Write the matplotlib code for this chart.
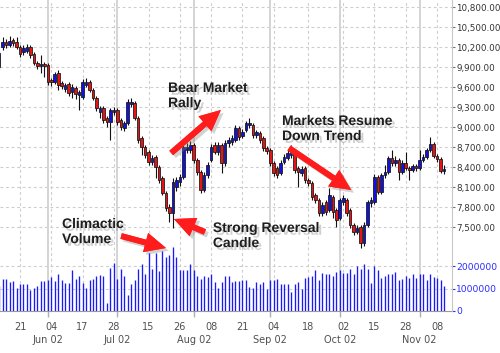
import numpy as np
import pandas as pd
import matplotlib
matplotlib.use("Agg")
import matplotlib.pyplot as plt
import matplotlib.patheffects as pe
from matplotlib.patches import Rectangle

# ---------------- data ----------------
dates = pd.bdate_range("2002-05-13", "2002-11-12")
dates = dates[~dates.isin(pd.to_datetime(["2002-05-27", "2002-07-04", "2002-09-02"]))]

opens = [
    9900, 10200, 10275, 10230, 10305, 10275, 10200, 10125, 10140, 10200,
    10095, 9960, 9915, 9945, 9930, 9705, 9675, 9810, 9660, 9570,
    9645, 9525, 9585, 9480, 9450, 9630, 9675, 9555, 9435, 9225,
    9285, 9135, 9075, 9225, 9255, 9105, 8985, 9060, 9345, 9360,
    9135, 8835, 8700, 8625, 8475, 8550, 8400, 8235, 8010, 7800,
    7710, 8100, 8175, 8250, 8655, 8655, 8730, 8505, 8325, 8055,
    8280, 8505, 8730, 8625, 8730, 8460, 8760, 8775, 8805, 8985,
    8865, 8955, 9030, 9030, 8880, 8910, 8835, 8685, 8655, 8460,
    8385, 8310, 8475, 8535, 8580, 8610, 8385, 8310, 8385, 8205,
    8160, 7980, 7905, 7710, 7875, 7755, 7950, 7755, 7635, 7875,
    7905, 7755, 7530, 7425, 7500, 7260, 7530, 7860, 7875, 8250,
    8025, 8280, 8325, 8535, 8460, 8505, 8325, 8460, 8385, 8355,
    8415, 8385, 8505, 8550, 8655, 8745, 8565, 8520, 8340]

closes = [
    10110, 10275, 10230, 10290, 10260, 10200, 10095, 10185, 10200, 10080,
    9960, 9915, 9945, 9915, 9675, 9675, 9795, 9630, 9615, 9630,
    9510, 9600, 9495, 9525, 9675, 9675, 9555, 9435, 9285, 9285,
    9105, 9075, 9255, 9255, 9075, 9000, 9060, 9375, 9375, 9135,
    8805, 8700, 8580, 8475, 8535, 8400, 8205, 8010, 7785, 7710,
    8175, 8205, 8250, 8700, 8700, 8730, 8505, 8325, 8055, 8280,
    8430, 8700, 8625, 8730, 8460, 8760, 8805, 8835, 8985, 8850,
    8925, 9060, 9060, 8880, 8925, 8805, 8685, 8640, 8460, 8310,
    8280, 8460, 8550, 8610, 8640, 8355, 8325, 8370, 8205, 8160,
    7950, 7905, 7710, 7830, 7725, 7980, 7725, 7605, 7905, 7935,
    7710, 7530, 7425, 7485, 7260, 7530, 7875, 7905, 8250, 8025,
    8280, 8325, 8535, 8460, 8505, 8325, 8460, 8385, 8355, 8415,
    8385, 8505, 8550, 8655, 8745, 8565, 8520, 8340, 8370]

highs = [
    10155, 10350, 10320, 10365, 10340, 10350, 10230, 10225, 10245, 10230,
    10120, 9990, 10080, 9975, 9960, 9740, 9830, 9855, 9690, 9665,
    9680, 9640, 9620, 9560, 9720, 9735, 9700, 9580, 9470, 9320,
    9310, 9170, 9290, 9300, 9280, 9130, 9090, 9420, 9435, 9390,
    9160, 8870, 8730, 8660, 8580, 8580, 8430, 8260, 8040, 7840,
    8235, 8250, 8300, 8740, 8760, 8790, 8760, 8540, 8360, 8320,
    8470, 8740, 8770, 8770, 8760, 8800, 8850, 8880, 9030, 9010,
    8970, 9090, 9135, 9060, 8960, 8940, 8870, 8720, 8690, 8490,
    8420, 8500, 8590, 8650, 8730, 8640, 8420, 8410, 8420, 8240,
    8190, 8010, 7940, 7870, 7910, 8085, 7980, 7790, 7940, 7980,
    7940, 7790, 7560, 7530, 7530, 7580, 7910, 7950, 8290, 8280,
    8310, 8430, 8570, 8655, 8560, 8540, 8500, 8625, 8420, 8450,
    8450, 8650, 8590, 8690, 8850, 8780, 8600, 8555, 8430]

lows = [
    9855, 10155, 10185, 10200, 10215, 10170, 10050, 10080, 10110, 10040,
    9925, 9870, 9810, 9750, 9630, 9610, 9640, 9555, 9570, 9530,
    9460, 9435, 9420, 9255, 9420, 9600, 9520, 9400, 9240, 9135,
    9060, 9000, 8805, 9180, 9030, 8960, 8940, 9030, 9300, 9100,
    8760, 8580, 8540, 8430, 8430, 8235, 8160, 7980, 7740, 7575,
    7485, 8040, 8120, 8220, 8610, 8610, 8460, 8280, 8010, 8020,
    8240, 8470, 8590, 8580, 8310, 8420, 8700, 8730, 8770, 8800,
    8830, 8920, 8990, 8840, 8840, 8760, 8640, 8600, 8420, 8270,
    8240, 8280, 8440, 8500, 8540, 8310, 8100, 8270, 8160, 8120,
    7910, 7860, 7670, 7670, 7680, 7720, 7635, 7500, 7600, 7830,
    7670, 7480, 7380, 7390, 7185, 7220, 7500, 7800, 7850, 7990,
    7990, 8240, 8290, 8420, 8410, 8210, 8290, 8350, 8200, 8320,
    8340, 8350, 8470, 8520, 8620, 8530, 8480, 8310, 8295]

volume_millions = [
    1.14, 1.44, 1.44, 1.29, 1.33, 1.04, 1.22, 1.19, 1.22, 0.92,
    1.04, 1.14, 1.33, 1.33, 1.37, 1.51, 1.33, 1.64, 1.37, 1.27,
    1.27, 1.83, 1.44, 1.59, 1.27, 1.04, 1.37, 1.44, 1.56, 1.62,
    1.56, 0.37, 1.94, 2.16, 1.44, 1.87, 1.56, 0.74, 1.22, 1.37,
    1.87, 2.10, 1.64, 2.61, 1.87, 2.61, 1.79, 2.68, 2.43, 2.49,
    2.85, 2.43, 1.83, 1.83, 1.83, 2.09, 1.83, 1.56, 1.44, 1.56,
    1.51, 1.66, 1.30, 1.04, 1.29, 1.56, 1.56,
    1.29, 1.34, 1.34, 1.41, 1.41, 1.08, 1.04, 1.30, 1.19, 1.29,
    0.99, 1.37, 1.41, 1.44, 1.22, 1.22, 1.22, 0.86, 1.22, 1.29,
    0.99, 1.46, 1.53, 1.56, 1.83, 1.41, 1.71, 1.68, 1.68, 1.56,
    1.75, 1.83, 1.71, 1.71, 1.87, 1.64, 2.01, 1.89, 2.13, 1.89,
    1.27, 2.01, 1.83, 1.46, 1.56, 1.64, 1.68, 1.75, 1.39, 1.44,
    1.56, 1.46, 1.68, 1.49, 1.64, 1.68, 1.41, 1.68, 1.53, 1.46,
    1.41, 1.14]

price_ticks = [7500, 7800, 8100, 8400, 8700, 9000, 9300, 9600, 9900,
               10200, 10500, 10800]
volume_ticks = [0, 1000000, 2000000]
day_tick_dates = ["2002-05-21", "2002-06-04", "2002-06-17", "2002-06-28",
                  "2002-07-15", "2002-07-26", "2002-08-08", "2002-08-21",
                  "2002-09-04", "2002-09-18", "2002-10-02", "2002-10-15",
                  "2002-10-28", "2002-11-08"]
month_starts = ["2002-06-03", "2002-07-01", "2002-08-01", "2002-09-03",
                "2002-10-01", "2002-11-01"]
month_labels = ["Jun 02", "Jul 02", "Aug 02", "Sep 02", "Oct 02", "Nov 02"]

# ---------------- figure ----------------
W, H = 500, 353
fig = plt.figure(figsize=(W / 100, H / 100), dpi=100)
ax = fig.add_axes([0, 1 - 311 / H, 452 / W, 311 / H])
ax2 = ax.twinx()

n = len(closes)
xs = np.arange(n)
date_index = {d.strftime("%Y-%m-%d"): i for i, d in enumerate(dates)}

ax.set_xlim(0.245, 130.3)
ax.set_ylim(6240, 10905)
ax2.set_ylim(0, 13.95e6)

grid_c = "#cdcdcd"
dash = (0, (2.5, 2.5))

for p in price_ticks:
    ax.axhline(p, color=grid_c, lw=0.8, ls=dash, zorder=0)
for v in volume_ticks[1:]:
    ax2.axhline(v, color=grid_c, lw=0.8, ls=dash, zorder=0)

day_pos = [date_index[d] for d in day_tick_dates]
month_pos = [date_index[d] for d in month_starts]
for p in day_pos:
    if p not in month_pos:
        ax.axvline(p, color=grid_c, lw=0.8, ls=dash, zorder=0)
for p in month_pos:
    ax.axvline(p, color="#d4d4d4", lw=1.4, zorder=0)

# volume bars
vol = [v * 1e6 for v in volume_millions]
ax2.vlines(xs, 0, vol, color="#1a1aff", lw=0.95, zorder=2)

# candles
up_c, dn_c = "#1212dc", "#e61414"
w = 0.74
ax.vlines(xs, lows, highs, color="#111111", lw=0.8, zorder=3)
for i in range(n):
    o, c = opens[i], closes[i]
    col = up_c if c >= o else dn_c
    ax.add_patch(Rectangle((i - w / 2, min(o, c)), w, max(abs(c - o), 8),
                           facecolor=col, edgecolor="#111111", lw=0.55, zorder=4))

# axes styling
ax.set_facecolor("white")
for s in ["left", "top"]:
    ax.spines[s].set_visible(False)
    ax2.spines[s].set_visible(False)
ax.spines["right"].set_visible(False)
ax2.spines["right"].set_color("#c8c8c8")
ax2.spines["right"].set_linewidth(0.8)
ax.spines["bottom"].set_color("#9a9a9a")
ax2.spines["bottom"].set_visible(False)

ax.yaxis.tick_right()
ax.set_yticks(price_ticks)
ax.set_yticklabels([f"{p:,.2f}" for p in price_ticks])
ax.tick_params(axis="y", length=2, width=0.8, color="#777777", pad=1.0,
               labelsize=6.3, labelcolor="#333333")
ax2.set_yticks(volume_ticks)
ax2.set_yticklabels([str(v) for v in volume_ticks])
ax2.tick_params(axis="y", length=2, width=0.8, color="#3030ff", pad=1.0,
                labelsize=6.6, labelcolor="#2a2aff")

ax.set_xticks(month_pos)
ax.set_xticklabels([])
ax.tick_params(axis="x", length=4, width=1.0, color="#b0b0b0")
xt = ax.get_xaxis_transform()
for p, d in zip(day_pos, day_tick_dates):
    ax.text(p, -0.0505, d[-2:], transform=xt, ha="center", va="center",
            fontsize=7, color="#505050", clip_on=False)
for p, lab in zip(month_pos, month_labels):
    ax.text(p, -0.094, lab, transform=xt, ha="center", va="center",
            fontsize=7, color="#505050", clip_on=False)

# annotations
shadow = [pe.withSimplePatchShadow(offset=(2, -2), shadow_rgbFace="#7a7a7a", alpha=0.35)]
txt_kw = dict(fontsize=10, fontweight="bold", family=["Liberation Sans", "DejaVu Sans"],
              color="#1e1e1e", ha="left", va="top", linespacing=1.1,
              path_effects=shadow, zorder=10, clip_on=False)
arrow_kw = dict(arrowstyle="simple,head_length=0.8,head_width=0.75,tail_width=0.22",
                mutation_scale=19, fc="#ff1c1c", ec="none", shrinkA=0, shrinkB=0,
                path_effects=[pe.withSimplePatchShadow(offset=(2, -2),
                                                      shadow_rgbFace="#808080", alpha=0.35),
                              pe.Normal()])

ax.text(48.6, 9690, "Bear Market\nRally", **txt_kw)
ax.annotate("", xy=(63.8, 9255), xytext=(49.5, 8610), arrowprops=arrow_kw, zorder=9)

ax.text(81.4, 9195, "Markets Resume\nDown Trend", **txt_kw)
ax.annotate("", xy=(101.3, 8055), xytext=(83.4, 8685), arrowprops=arrow_kw, zorder=9)

ax.text(18.1, 7650, "Climactic\nVolume", **txt_kw)
ax.annotate("", xy=(48.0, 7185), xytext=(35.1, 7365), arrowprops=arrow_kw, zorder=9)

ax.text(61.5, 7590, "Strong Reversal\nCandle", **txt_kw)
ax.annotate("", xy=(50.3, 7620), xytext=(59.2, 7425), arrowprops=arrow_kw, zorder=9)

fig.savefig("out.png", dpi=100)
